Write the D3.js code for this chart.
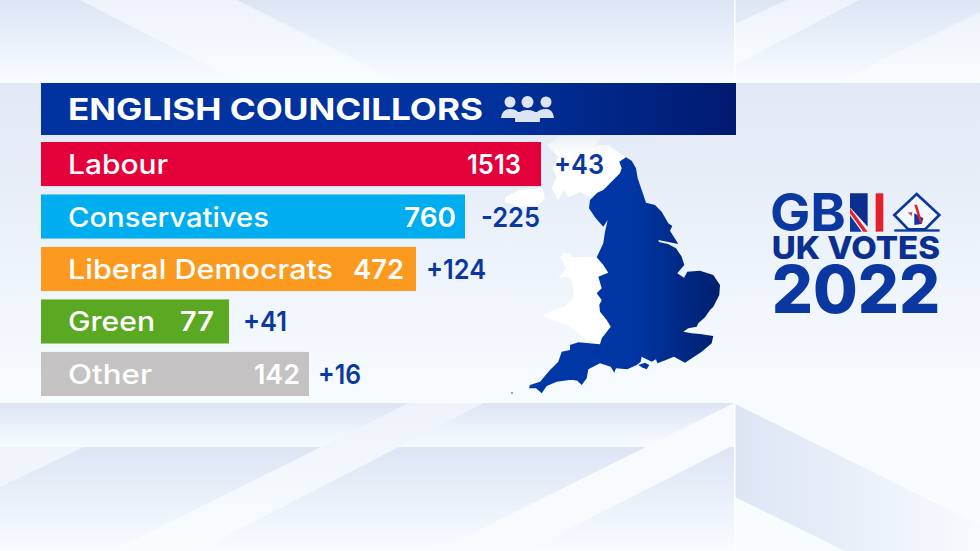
<!DOCTYPE html>
<html>
<head>
<meta charset="utf-8">
<title>English councillors</title>
<script src="https://cdn.jsdelivr.net/npm/d3@7"></script>
<style>
    html, body { margin: 0; padding: 0; background: #f6fbfe; overflow: hidden; }
    svg { display: block; }
    text { font-family: Inter, "Open Sans", sans-serif; }
</style>
</head>
<body>
<div id="chart"><svg></svg></div>
<script>
const parties = ["Labour", "Conservatives", "Liberal Democrats", "Green", "Other"];
const seats = [1513, 760, 472, 77, 142];
const changes = ["+43", "-225", "+124", "+41", "+16"];
const title = "ENGLISH COUNCILLORS";

const partyColors = ["#e4003b", "#00aeef", "#fb9a1f", "#5ba823", "#c4c2c2"];
// text placing, the labels do not follow a single rule
const labelWidths = [100, 201, 265, 87, 84];
const seatWidths = [54, 52, 51, 34, 46];
const seatInsets = [20, 9, 12, 15, 9];
const changeWidths = [50, 59, 60, 44, 43];
const changeGaps = [13, 16, 10, 14, 9];

// polygons below are scenery traced from crops, not data
const england = [[626,157.3],[631.7,160.7],[636,168.3],[637.7,178.3],[641.7,190],[646,202.7],[655,205],[661.7,211.7],[668.3,223.3],[672.3,226],[670,230.7],[678.3,244],[668.3,242],[658.3,240],[659,242],[668,244],[676,248.3],[681.7,256.7],[684.3,265],[677.3,273.3],[684,277.7],[687.3,271.7],[700,270.7],[713.3,275],[720,285],[719.3,295],[713.3,306.7],[710,310],[705,317.3],[698.3,323.3],[696.7,326.7],[688.3,328.3],[683.3,331.7],[691.7,333.3],[700,334],[713.3,336],[711.7,343.3],[701.7,351.7],[685,362.7],[674,356.7],[664,360.7],[657.3,363.3],[656,359.3],[651.7,361.7],[641.7,356.7],[640.7,361.7],[636.7,365],[627.3,369.3],[616,368.3],[614.3,372.7],[610.7,366.7],[600,363.3],[588.3,369.3],[586.7,378.3],[581.7,385],[577.3,380.7],[573.3,380],[569.3,380],[556.7,381.7],[546.7,386],[541.7,393.3],[536,388.3],[529,388.3],[530,385],[540,381.7],[550,370],[558.3,361.7],[561.7,351.7],[570,350],[570,345],[578.3,342.3],[600,344.3],[601.7,338.3],[610.7,326.7],[606.7,320],[600,311.7],[599.3,305],[601.7,300],[596.7,293.3],[601.7,288.3],[598.3,276.7],[608.3,272.7],[603.3,265],[596.7,257.3],[603.3,243.3],[605,231.7],[607.7,220],[603.3,226.7],[597.3,220],[595,217.3],[589,208.3],[590,200],[597.3,192.7],[603.3,190],[620,173.3],[621.7,168.3],[619.3,161.7]];
const wight = [[638.3,365],[645,362.7],[649.3,365],[646.7,369.3],[642.7,367.7]];
const wales = [[563.3,252.7],[570,254],[571.7,257.3],[593.3,256.7],[597,257.3],[604,266],[609,273],[602,290],[602,300],[601,312],[612,328],[602,345],[586.7,340],[580,335],[568.3,325],[556.7,321.7],[548.3,318.3],[545,318],[543.3,315],[553.3,310],[565,306.7],[573.3,298.3],[573.3,286.7],[570,278.3],[563.3,276.7],[558.3,278.3],[566,268.3],[562.7,261.7],[560,256.7]];
const scotland = [[560,136],[601.7,136],[596.7,145],[608.3,145],[625,156.7],[621.7,168.3],[620,173.3],[603.3,190],[597.3,192.7],[590,197.3],[580,191.7],[568.3,197.3],[564,190],[558.3,200],[551.7,188.3],[556.7,176.7],[552.7,168.3],[558.3,156.7],[546.7,145]];
const ulster = [[505,197],[520,190],[542,188],[545,198],[538,205],[520,207],[505,202]];

const width = 980, height = 551;
const svg = d3.select("#chart svg").attr("width", width).attr("height", height);
const defs = svg.append("defs");

function gradient(id, stops, x2, y2) {
    const g = defs.append("linearGradient").attr("id", id)
        .attr("x1", 0).attr("y1", 0).attr("x2", x2).attr("y2", y2);
    stops.forEach(function(s) {
        g.append("stop").attr("offset", s[0]).attr("stop-color", s[1]).attr("stop-opacity", s[2] === undefined ? 1 : s[2]);
    });
}
gradient("pane", [[0, "#dde5f5"], [1, "#f7fcff"]], 0, 1);
gradient("paneMid", [[0, "#e2e8f5"], [0.6, "#eef4fb"], [1, "#f7fcff"]], 0, 1);
gradient("stripe", [[0, "#eef3fb"], [1, "#f8fdff"]], 0, 1);
gradient("cornerDark", [[0, "#dde5f5"], [1, "#f6fbfe"]], 1, 0);
gradient("titleBar", [[0, "#0033a0"], [0.62, "#0033a0"], [1, "#001a70"]], 1, 0);
gradient("mapFill", [[0, "#0038a8"], [0.55, "#0036a3"], [1, "#001f6e"]], 1, 0);
gradient("fade", [[0, "#ffffff", 0.2], [0.3, "#ffffff", 1]], 0, 1);

const line = d3.line();
function poly(parent, points, fill) {
    return parent.append("path").attr("d", line(points) + "Z").attr("fill", fill);
}

// backdrop
const bg = svg.append("g");
poly(bg, [[0,0],[980,0],[980,82],[0,82]], "url(#pane)");
poly(bg, [[80,0],[237,0],[400,82],[240,82]], "url(#stripe)");
poly(bg, [[787,0],[859,0],[735,65],[735,24]], "url(#stripe)");
poly(bg, [[980,12],[980,82],[837,82]], "url(#stripe)");
poly(bg, [[0,83],[980,83],[980,403],[0,403]], "url(#paneMid)");
poly(bg, [[0,403],[735,403],[735,447],[0,447]], "url(#pane)");
poly(bg, [[0,447],[735,447],[735,551],[0,551]], "url(#pane)");
poly(bg, [[0,447],[84,447],[0,487]], "#f0f5fc");
poly(bg, [[409,403],[484,403],[197,551],[112,551]], "url(#stripe)");
poly(bg, [[734,403],[734,445],[525,551],[437,551]], "#f7fbfe");
poly(bg, [[735,403],[980,403],[980,551],[735,551]], "#f7fcff");
poly(bg, [[735,404],[980,525],[980,551],[845,551],[735,497]], "url(#cornerDark)");
bg.append("rect").attr("x", 734).attr("y", 0).attr("width", 1.5).attr("height", 82).attr("fill", "#ffffff");
bg.append("rect").attr("x", 734).attr("y", 403).attr("width", 1.5).attr("height", 148).attr("fill", "#ffffff");

// map sits behind the bars
const map = svg.append("g");
poly(map, scotland, "url(#fade)");
poly(map, ulster, "#ffffff");
poly(map, wales, "#ffffff");
poly(map, england, "url(#mapFill)");
poly(map, wight, "#0036a3");
map.append("circle").attr("cx", 512).attr("cy", 393).attr("r", 1.2).attr("fill", "#9aa6b8");

// title strip
svg.append("rect").attr("x", 41).attr("y", 83).attr("width", 695).attr("height", 52).attr("fill", "url(#titleBar)");
svg.append("text").attr("x", 68).attr("y", 120).attr("fill", "#fff")
    .attr("font-size", 30).attr("font-weight", 700)
    .attr("textLength", 415).attr("lengthAdjust", "spacingAndGlyphs")
    .text(title);

// three people icon
const people = svg.append("g").attr("fill", "#dde5f5");
[[510, 102, 5.5], [527.5, 102, 6], [546, 102, 5.5]].forEach(function(h) {
    people.append("circle").attr("cx", h[0]).attr("cy", h[1]).attr("r", h[2]);
});
people.append("path").attr("d", "M501 118 Q502 109 510 109 Q516 109 518 112 L537 112 Q540 109 546 109 Q553 109 554 118 L540 118 L540 122 Q537 112 527 112 Q517 112 515 122 L515 118 Z");
people.append("path").attr("d", "M515 122 Q516 110 527.5 110 Q539 110 540 122 Z");

// bars: the picture's bars are not proportional to the seats, so the scale is piecewise
const order = d3.sort(d3.range(seats.length), function(i) { return seats[i]; });
const x = d3.scaleLinear()
    .domain(order.map(function(i) { return seats[i]; }))
    .range([229, 309, 416, 465, 541]);
const y = d3.scaleBand().domain(parties).range([142, 396]).paddingInner(0.16);
const left = 41;

const rows = svg.selectAll("g.row")
    .data(parties)
    .enter()
    .append("g")
    .attr("class", "row");

rows.append("rect")
    .attr("x", left)
    .attr("y", function(d) { return y(d); })
    .attr("width", function(d, i) { return x(seats[i]) - left; })
    .attr("height", y.bandwidth())
    .attr("fill", function(d, i) { return partyColors[i]; });

function rowText(sel) {
    return sel.attr("y", function(d) { return y(d) + y.bandwidth() / 2 + 10; })
        .attr("font-size", 27.5)
        .attr("lengthAdjust", "spacingAndGlyphs");
}

rows.append("text").call(rowText)
    .attr("x", 68)
    .attr("fill", "#fff")
    .attr("font-weight", 500)
    .attr("textLength", function(d, i) { return labelWidths[i]; })
    .text(function(d) { return d; });

rows.append("text").call(rowText)
    .attr("x", function(d, i) { return x(seats[i]) - seatInsets[i] - seatWidths[i]; })
    .attr("fill", "#fff")
    .attr("font-weight", 600)
    .attr("textLength", function(d, i) { return seatWidths[i]; })
    .text(function(d, i) { return seats[i]; });

rows.append("text").call(rowText)
    .attr("x", function(d, i) { return x(seats[i]) + changeGaps[i]; })
    .attr("fill", "#0a37a0")
    .attr("font-weight", 600)
    .attr("textLength", function(d, i) { return changeWidths[i]; })
    .text(function(d, i) { return changes[i]; });

// logo, traced in 3x crop coordinates
const logo = svg.append("g").attr("transform", "translate(755,180) scale(0.3333)");
function logoText(str, xPos, yPos, size, len, fill, weight) {
    logo.append("text").attr("x", xPos).attr("y", yPos).attr("fill", fill)
        .attr("font-size", size).attr("font-weight", weight)
        .attr("textLength", len).attr("lengthAdjust", "spacingAndGlyphs")
        .text(str);
}
logoText("GB", 45, 154, 158, 228, "#0a37a0", 700);
poly(logo, [[285,40],[338,40],[338,140],[285,82]], "#0a2f8f");
poly(logo, [[285,84],[338,155],[325,155],[285,100]], "#e4202c");
poly(logo, [[285,106],[320,155],[285,155]], "#0a37a0");
logo.append("rect").attr("x", 362).attr("y", 40).attr("width", 23).attr("height", 115).attr("fill", "#e4202c");
poly(logo, [[485,42],[553,105],[510,148],[460,148],[418,105]], "#f4f8fd").attr("stroke", "#0a37a0").attr("stroke-width", 8);
logo.append("rect").attr("x", 418).attr("y", 148).attr("width", 136).attr("height", 7).attr("fill", "#0a37a0");
poly(logo, [[478,100],[505,115],[500,132],[478,135]], "#0a37a0");
poly(logo, [[478,74],[486,74],[502,128],[494,128]], "#e4202c");
poly(logo, [[458,98],[472,96],[470,108]], "#b0506a");
logoText("UK VOTES", 50, 238, 94, 505, "#0a2f8f", 800);
logoText("2022", 50, 398, 200, 506, "#0a37a0", 800);
</script>
</body>
</html>
